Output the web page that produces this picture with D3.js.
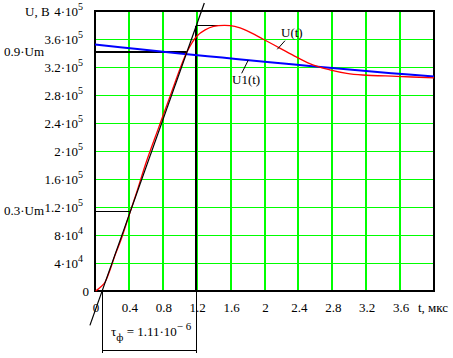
<!DOCTYPE html>
<html>
<head>
<meta charset="utf-8">
<script src="https://cdn.jsdelivr.net/npm/d3@7"></script>
<style>
  body { margin: 0; background: #fff; }
  svg { display: block; font-family: "Liberation Serif", "Times New Roman", serif; }
</style>
</head>
<body>
<svg id="chart" width="453" height="358"></svg>
<script>
// values: t in µs, U in volts
const xTicks = [0, 0.4, 0.8, 1.2, 1.6, 2, 2.4, 2.8, 3.2, 3.6];
const xTickLabels = ["0", "0.4", "0.8", "1.2", "1.6", "2", "2.4", "2.8", "3.2", "3.6"];
const yTicks = [0, 4e4, 8e4, 1.2e5, 1.6e5, 2e5, 2.4e5, 2.8e5, 3.2e5, 3.6e5, 4e5];
const yTickMant = ["0", "4·10", "8·10", "1.2·10", "1.6·10", "2·10", "2.4·10", "2.8·10", "3.2·10", "3.6·10", "4·10"];
const yTickExp  = ["", "4", "4", "5", "5", "5", "5", "5", "5", "5", "5"];

// U(t), red
const uT = [0.008, 0.03, 0.07, 0.118, 0.177, 0.236, 0.307, 0.417, 0.49, 0.61, 0.75, 0.9, 1.083, 1.2, 1.3, 1.4, 1.53, 1.65, 1.79, 1.98, 2.18, 2.38, 2.57, 2.77, 2.97, 3.16, 3.56, 4.0];
const uV = [0, 2e3, 6e3, 12.5e3, 30e3, 51e3, 73e3, 113.7e3, 140.5e3, 186e3, 233e3, 283e3, 341e3, 364e3, 373e3, 378e3, 379.5e3, 378e3, 372e3, 360e3, 347e3, 334e3, 323e3, 316e3, 311e3, 308.6e3, 306.6e3, 304.5e3];

// U1(t), blue
const u1T = [0, 0.5, 1, 1.5, 2, 2.5, 3, 3.5, 4];
const u1V = [352e3, 345.6e3, 339.4e3, 333.5e3, 327.6e3, 321.9e3, 316.3e3, 311.2e3, 306.3e3];

// front construction
const Um = 379e3;
const tAt03 = 0.417, tAt09 = 1.083, tPeak = 1.53;
const tFront0 = 0.084, tFront1 = 1.195;
const tangentT = [-0.06, 1.29];
const tangentV = [-49.1e3, 411.5e3];
const bracketV = -85e3, bracketEndV = -89e3;

const svg = d3.select("#chart");
const x = d3.scaleLinear().domain([0, 4]).range([95, 434]);
const y = d3.scaleLinear().domain([0, 4e5]).range([291, 11]);

const green = "#00ff00";

// grid
svg.append("g").selectAll("line")
  .data(xTicks.slice(1))
  .enter().append("line")
    .attr("x1", d => x(d)).attr("x2", d => x(d))
    .attr("y1", y(4e5)).attr("y2", y(0))
    .attr("stroke", green).attr("stroke-width", 2)
    .attr("shape-rendering", "crispEdges");

svg.append("g").selectAll("line")
  .data(yTicks.slice(1, -1))
  .enter().append("line")
    .attr("x1", x(0)).attr("x2", x(4))
    .attr("y1", d => y(d)).attr("y2", d => y(d))
    .attr("stroke", green).attr("stroke-width", 1)
    .attr("shape-rendering", "crispEdges");

// frame
svg.append("rect")
  .attr("x", x(0)).attr("y", y(4e5))
  .attr("width", x(4) - x(0)).attr("height", y(0) - y(4e5))
  .attr("fill", "none").attr("stroke", "#000").attr("stroke-width", 1.5)
  .attr("shape-rendering", "crispEdges");

// black construction lines
const seg = (t1, v1, t2, v2, w) => svg.append("line")
  .attr("x1", x(t1)).attr("y1", y(v1)).attr("x2", x(t2)).attr("y2", y(v2))
  .attr("stroke", "#000").attr("stroke-width", w || 1)
  .attr("shape-rendering", "crispEdges");

seg(0, 0.3 * Um, tAt03, 0.3 * Um, 1.5);
seg(0, 0.9 * Um, tAt09, 0.9 * Um, 1.5);
seg(tFront1, Um, tPeak, Um, 1.5);
seg(tFront1, Um, tFront1, 0, 2);
seg(tFront1, 0, tFront1, bracketEndV, 1);
seg(tFront0, 0, tFront0, bracketEndV, 1);
seg(tFront0, bracketV, tFront1, bracketV, 1);

// curves
svg.append("path")
  .datum(d3.zip(u1T, u1V))
  .attr("d", d3.line().x(d => x(d[0])).y(d => y(d[1])).curve(d3.curveCatmullRom))
  .attr("fill", "none").attr("stroke", "#0000ff").attr("stroke-width", 2);

svg.append("path")
  .datum(d3.zip(uT, uV))
  .attr("d", d3.line().x(d => x(d[0])).y(d => y(d[1])).curve(d3.curveCatmullRom.alpha(0.5)))
  .attr("fill", "none").attr("stroke", "#ff0000").attr("stroke-width", 1.3);

// tangent
svg.append("path")
  .datum(d3.zip(tangentT, tangentV))
  .attr("d", d3.line().x(d => x(d[0])).y(d => y(d[1])))
  .attr("fill", "none").attr("stroke", "#000").attr("stroke-width", 1.2);

// y tick labels
const yl = svg.append("g").attr("font-size", 13);
yTicks.forEach((v, i) => {
  const t = yl.append("text")
    .attr("x", yTickExp[i] ? 83 : 89)
    .attr("y", y(v) + 5)
    .attr("text-anchor", "end");
  t.append("tspan").text(yTickMant[i]);
  if (yTickExp[i]) {
    t.append("tspan").attr("dy", -6).attr("font-size", 10).text(yTickExp[i]);
  }
});

// x tick labels
svg.append("g").attr("font-size", 13).selectAll("text")
  .data(xTicks)
  .enter().append("text")
    .attr("x", d => x(d) + 1)
    .attr("y", 312)
    .attr("text-anchor", "middle")
    .text((d, i) => xTickLabels[i]);

svg.append("text").attr("x", 418).attr("y", 312).attr("font-size", 13).text("t, мкс");
svg.append("text").attr("x", 25).attr("y", y(4e5) + 5).attr("font-size", 13).text("U, B");
svg.append("text").attr("x", 4).attr("y", y(0.9 * Um) + 4).attr("font-size", 13).text("0.9·Um");
svg.append("text").attr("x", 4).attr("y", y(0.3 * Um) + 4).attr("font-size", 13).text("0.3·Um");

// curve labels
const labels = [
  { text: "U(t)",  t: 2.195, v: 362.9e3, lt: [2.242, 2.151], lv: [357.6e3, 345.3e3] },
  { text: "U1(t)", t: 1.617, v: 296.4e3, lt: [1.809, 1.731], lv: [330e3, 311e3] }
];
labels.forEach(l => {
  svg.append("text").attr("x", x(l.t)).attr("y", y(l.v)).attr("font-size", 13).text(l.text);
  svg.append("line")
    .attr("x1", x(l.lt[0])).attr("y1", y(l.lv[0]))
    .attr("x2", x(l.lt[1])).attr("y2", y(l.lv[1]))
    .attr("stroke", "#000").attr("stroke-width", 1);
});

// tau annotation
const tau = svg.append("text").attr("x", 111).attr("y", 336).attr("font-size", 13);
tau.append("tspan").text("τ");
tau.append("tspan").attr("dy", 5).attr("font-size", 11).text("ф");
tau.append("tspan").attr("dy", -5).text(" = 1.11·10");
tau.append("tspan").attr("dy", -6).attr("font-size", 11).text("− 6");
</script>
</body>
</html>
